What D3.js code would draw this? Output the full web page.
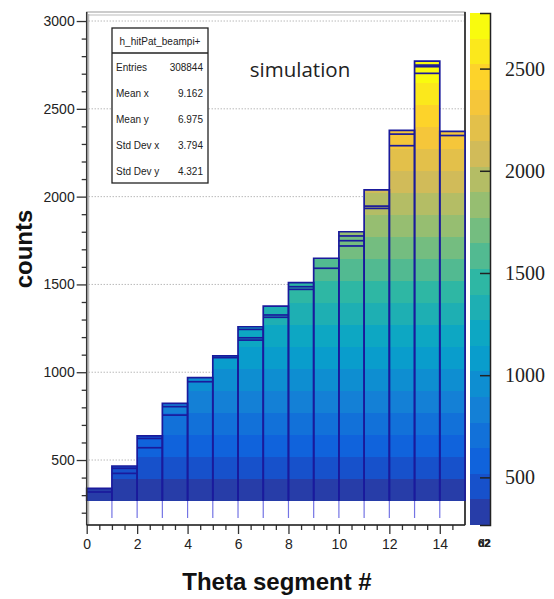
<!DOCTYPE html>
<html><head><meta charset="utf-8">
<script src="https://cdn.jsdelivr.net/npm/d3@7"></script>
<style>body{margin:0;background:#fff}svg{display:block}</style>
</head><body>
<svg id="c" width="554" height="599"></svg>
<script>
// ---- data ----
const thetaSegments = [0,1,2,3,4,5,6,7,8,9,10,11,12,13,14];
const columnTops = [338, 466, 637, 823, 969, 1093, 1259, 1377, 1510, 1649, 1800, 2038, 2377, 2772, 2372];
const innerTops = [[318],[453,424],[623,570],[804,756],[946],[1083],[1244,1196,1183],[1326,1313],[1487,1472],[1592],[1776,1749,1719],[1946,1933],[2356,2290],[2749,2740,2702],[2348]];
const zMin = 267, zMax = 2772, nContours = 20;
const yTicks = [500,1000,1500,2000,2500,3000];
const xTicks = [0,2,4,6,8,10,12,14];
const zTicks = [500,1000,1500,2000,2500];
const statsTitle = "h_hitPat_beampi+";
const statsLabels = ["Entries","Mean x","Mean y","Std Dev x","Std Dev y"];
const statsValues = ["308844","9.162","6.975","3.794","4.321"];

// kBird palette
const birdStops = [0,0.125,0.25,0.375,0.5,0.625,0.75,0.875,1];
const birdR = [0.2082,0.0592,0.0780,0.0232,0.1802,0.5301,0.8186,0.9956,0.9764];
const birdG = [0.1664,0.3599,0.5041,0.6419,0.7178,0.7492,0.7328,0.7862,0.9832];
const birdB = [0.5293,0.8684,0.8385,0.7914,0.6425,0.4662,0.3499,0.1968,0.0539];
const birdScale = d3.scaleLinear().domain(birdStops)
  .range(birdStops.map((s,i)=>d3.rgb(birdR[i]*255,birdG[i]*255,birdB[i]*255)))
  .interpolate(d3.interpolateRgb);
function bandColor(k){ // ROOT contour -> palette index
  const idx = Math.floor((k+0.99)*255/nContours);
  return birdScale(Math.min(idx,254)/254);
}

const svg = d3.select("#c");
const L=86.7, R=465, T=14, B=525;
const x = d3.scaleLinear().domain([0,15]).range([L,R]);
const y = d3.scaleLinear().domain([130,3040]).range([B,T]);
const zy = d3.scaleLinear().domain([zMin,zMax]).range([525,13]);
const levels = d3.range(nContours+1).map(k=>zMin+k*(zMax-zMin)/nContours);

// frame
svg.append("rect").attr("x",L).attr("y",T-2).attr("width",R-L).attr("height",B-T+2)
  .attr("fill","#fff").attr("stroke","#999").attr("stroke-width",1);
svg.append("line").attr("x1",L+2).attr("x2",R).attr("y1",T+1).attr("y2",T+1).attr("stroke","#bbb");
svg.append("line").attr("x1",L+2).attr("x2",L+2).attr("y1",T).attr("y2",B).attr("stroke","#aaa");
svg.append("line").attr("x1",R).attr("x2",R).attr("y1",T-2).attr("y2",B).attr("stroke","#444").attr("stroke-width",2);

// grid
svg.append("g").selectAll("line").data(yTicks).join("line")
  .attr("x1",L+2).attr("x2",R-1).attr("y1",d=>y(d)).attr("y2",d=>y(d))
  .attr("stroke","#999").attr("stroke-dasharray","1,2").attr("stroke-width",1);

// bars
const bars = svg.append("g");
thetaSegments.forEach((t,i)=>{
  const top = columnTops[i];
  const x0 = x(t), x1 = x(t+1);
  for(let k=0;k<nContours;k++){
    const lo = levels[k], hi = Math.min(levels[k+1], top);
    if(lo>=top) break;
    bars.append("rect").attr("x",x0).attr("width",x1-x0)
      .attr("y",y(hi)).attr("height",y(lo)-y(hi)).attr("fill",bandColor(k))
      .attr("shape-rendering","crispEdges");
  }
});
// lower lego edges
bars.append("g").selectAll("line").data(thetaSegments.slice(1)).join("line")
  .attr("x1",d=>x(d)).attr("x2",d=>x(d)).attr("y1",y(zMin)).attr("y2",B-7)
  .attr("stroke","#7474e4").attr("stroke-width",1.2);
// outlines
const edgeCol = "#1a1a9c";
thetaSegments.forEach((t,i)=>{
  const top = columnTops[i];
  const x0 = x(t), x1 = x(t+1);
  bars.append("path").attr("d",`M${x0},${y(zMin)}V${y(top)}H${x1}V${y(zMin)}`)
    .attr("fill","none").attr("stroke",edgeCol).attr("stroke-width",1.7);
  innerTops[i].forEach(v=>{
    bars.append("line").attr("x1",x0).attr("x2",x1).attr("y1",y(v)).attr("y2",y(v))
      .attr("stroke",edgeCol).attr("stroke-width",1.7);
  });
});

// axes
const fontAx = "'Liberation Sans', Arial, Helvetica, sans-serif";
const gy = svg.append("g").attr("transform",`translate(${L},0)`);
gy.call(d3.axisLeft(y).tickValues(yTicks).tickSize(10).tickPadding(2).tickFormat(d3.format("d")));
gy.call(g=>g.select(".domain").remove());
gy.selectAll("text").attr("font-family",fontAx).attr("font-size",14).attr("fill","#222");
gy.selectAll("line").attr("stroke","#333").attr("stroke-width",1.3);
svg.append("g").attr("transform",`translate(${L},0)`)
  .call(d3.axisLeft(y).tickValues(d3.range(200,3040,100).filter(v=>v%500)).tickSize(5).tickFormat(""))
  .call(g=>g.select(".domain").remove())
  .selectAll("line").attr("stroke","#333").attr("stroke-width",1.3);
svg.append("line").attr("x1",L).attr("x2",L).attr("y1",T-2).attr("y2",B).attr("stroke","#333").attr("stroke-width",1.5);

const gx = svg.append("g").attr("transform",`translate(0,${B})`);
gx.call(d3.axisBottom(x).tickValues(xTicks).tickSize(9).tickPadding(5).tickFormat(d3.format("d")));
gx.call(g=>g.select(".domain").remove());
gx.selectAll("text").attr("font-family",fontAx).attr("font-size",14).attr("fill","#222");
gx.selectAll("line").attr("stroke","#333").attr("stroke-width",1.3);
svg.append("g").attr("transform",`translate(0,${B})`)
  .call(d3.axisBottom(x).tickValues(d3.range(0.5,15,0.5).filter(v=>v%2)).tickSize(5).tickFormat(""))
  .call(g=>g.select(".domain").remove())
  .selectAll("line").attr("stroke","#333").attr("stroke-width",1.3);
svg.append("line").attr("x1",L).attr("x2",R).attr("y1",B).attr("y2",B).attr("stroke","#222").attr("stroke-width",1.6);

// titles
svg.append("text").attr("x",277).attr("y",590).attr("text-anchor","middle")
  .attr("font-family",fontAx).attr("font-weight","bold").attr("font-size",24).attr("fill","#111")
  .text("Theta segment #");
svg.append("text").attr("transform","translate(32,249) rotate(-90)").attr("text-anchor","middle")
  .attr("font-family",fontAx).attr("font-weight","bold").attr("font-size",24).attr("fill","#111")
  .text("counts");
svg.append("text").attr("x",300).attr("y",77).attr("text-anchor","middle")
  .attr("font-family","'Open Sans', sans-serif").attr("font-size",20.5).attr("fill","#222")
  .text("simulation");

// stats box
const sb = svg.append("g");
sb.append("rect").attr("x",112).attr("y",28).attr("width",96).attr("height",155)
  .attr("fill","#fff").attr("stroke","#222").attr("stroke-width",1.3);
sb.append("line").attr("x1",112).attr("x2",208).attr("y1",53).attr("y2",53).attr("stroke","#222").attr("stroke-width",1.3);
sb.append("text").attr("x",160).attr("y",45).attr("text-anchor","middle")
  .attr("font-family",fontAx).attr("font-size",10).attr("fill","#222").text(statsTitle);
statsLabels.forEach((s,i)=>{
  const yy = 70.5 + i*26;
  sb.append("text").attr("x",116).attr("y",yy).attr("font-family",fontAx).attr("font-size",10).attr("fill","#222").text(s);
  sb.append("text").attr("x",203).attr("y",yy).attr("text-anchor","end").attr("font-family",fontAx).attr("font-size",10).attr("fill","#222").text(statsValues[i]);
});

// colour bar
const cb = svg.append("g");
d3.range(nContours).forEach(k=>{
  cb.append("rect").attr("x",470).attr("width",20)
    .attr("y",zy(levels[k+1])).attr("height",zy(levels[k])-zy(levels[k+1]))
    .attr("fill",bandColor(k)).attr("shape-rendering","crispEdges");
});
const gz = svg.append("g").attr("transform","translate(490,0)");
gz.call(d3.axisRight(zy).tickValues(zTicks).tickSize(-10).tickPadding(15).tickFormat(d3.format("d")));
gz.call(g=>g.select(".domain").attr("stroke","#222").attr("stroke-width",1.5));
gz.selectAll("text").attr("font-family","'Liberation Serif', 'Times New Roman', serif").attr("font-size",20).attr("fill","#222");
gz.selectAll("line").attr("stroke","#222").attr("stroke-width",1.5);
svg.append("text").attr("x",478).attr("y",547).attr("font-family",fontAx).attr("font-weight","bold").attr("font-size",11).attr("fill","#222").text("62");
svg.append("text").attr("x",478).attr("y",547).attr("font-family",fontAx).attr("font-weight","bold").attr("font-size",11).attr("fill","#222").text("d2");
</script>
</body></html>
